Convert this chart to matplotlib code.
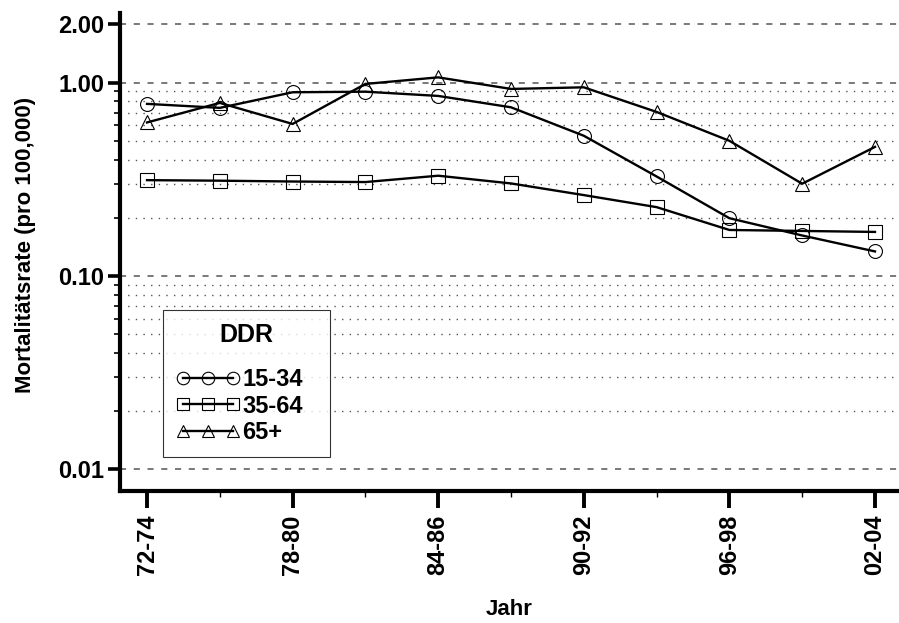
import matplotlib

matplotlib.use("Agg")
import matplotlib.pyplot as plt
from matplotlib.lines import Line2D
from matplotlib.ticker import FixedLocator, NullFormatter

plt.rcParams["font.family"] = ["Liberation Sans", "DejaVu Sans"]
plt.rcParams["font.weight"] = "bold"

periods = ["72-74", "75-77", "78-80", "81-83", "84-86", "87-89",
           "90-92", "93-95", "96-98", "99-01", "02-04"]
age_15_34 = [0.776, 0.74, 0.891, 0.897, 0.853, 0.745, 0.531, 0.327, 0.199, 0.162, 0.134]
age_35_64 = [0.313, 0.311, 0.308, 0.306, 0.330, 0.301, 0.262, 0.227, 0.173, 0.171, 0.169]
age_65_plus = [0.622, 0.785, 0.611, 0.984, 1.064, 0.927, 0.945, 0.705, 0.500, 0.300, 0.465]

series = [("15-34", age_15_34, "o"), ("35-64", age_35_64, "s"), ("65+", age_65_plus, "^")]

fig = plt.figure(figsize=(8.99, 6.23), dpi=100, facecolor="white")
ax = fig.add_axes([0.1335, 0.2119, 0.8665, 0.7673])

x = list(range(len(periods)))
handles = []
for label, vals, mk in series:
    ax.plot(x, vals, color="black", lw=1.7, marker=mk, markersize=10,
            markerfacecolor="none", markeredgecolor="black", markeredgewidth=0.8,
            zorder=3)
    handles.append(Line2D([], [], color="black", lw=1.7, marker=mk, markersize=9,
                          markerfacecolor="none", markeredgecolor="black",
                          markeredgewidth=0.8, label=label))

ax.set_yscale("log")
ax.set_ylim(0.00774, 2.29)
ax.set_xlim(-0.371, 10.33)

major = [0.01, 0.1, 1.0, 2.0]
minor = [k * 0.01 for k in range(2, 10)] + [k * 0.1 for k in range(2, 10)]
ax.yaxis.set_major_locator(FixedLocator(major))
ax.yaxis.set_minor_locator(FixedLocator(minor))
ax.yaxis.set_minor_formatter(NullFormatter())
ax.set_yticklabels(["0.01", "0.10", "1.00", "2.00"])
for v in major:
    ax.axhline(v, color="#555555", lw=1.1, ls=(0, (4, 5)), zorder=1)
for v in minor:
    ax.axhline(v, color="#555555", lw=1.0, ls=(0, (1, 4.5)), zorder=1)

ax.set_xticks(x[::2])
ax.set_xticklabels(periods[::2], rotation=90)
ax.set_xticks(x[1::2], minor=True)

ax.tick_params(axis="y", which="major", direction="out", length=8.5, width=2.6,
               labelsize=17, pad=3)
ax.tick_params(axis="x", which="major", direction="out", length=12, width=2.8,
               labelsize=17, pad=5)
ax.tick_params(axis="y", which="minor", direction="out", length=4, width=1.2)
ax.tick_params(axis="x", which="minor", direction="out", length=4, width=1.0)

for side in ["top", "right"]:
    ax.spines[side].set_visible(False)
for side in ["left", "bottom"]:
    ax.spines[side].set_linewidth(3)

ax.set_ylabel("Mortalitätsrate (pro 100,000)", fontsize=16, fontweight="bold")
ax.yaxis.set_label_coords(-0.108, 0.515)
ax.set_xlabel("Jahr", fontsize=16, fontweight="bold")
ax.xaxis.set_label_coords(0.5, -0.225)

leg = ax.legend(handles=handles, title="DDR", loc="lower left",
                bbox_to_anchor=(0.0553, 0.071, 0.2144, 0), mode="expand",
                numpoints=3, handlelength=2.7, handletextpad=0.1, fontsize=17,
                title_fontsize=18, frameon=True, fancybox=False, borderpad=0.55,
                labelspacing=0.15, borderaxespad=0)
leg.get_frame().set_edgecolor("black")
leg.get_frame().set_linewidth(0.8)
leg.get_title().set_fontweight("bold")
leg._legend_box.sep = 15

fig.savefig("out.png", dpi=100, facecolor="white")
